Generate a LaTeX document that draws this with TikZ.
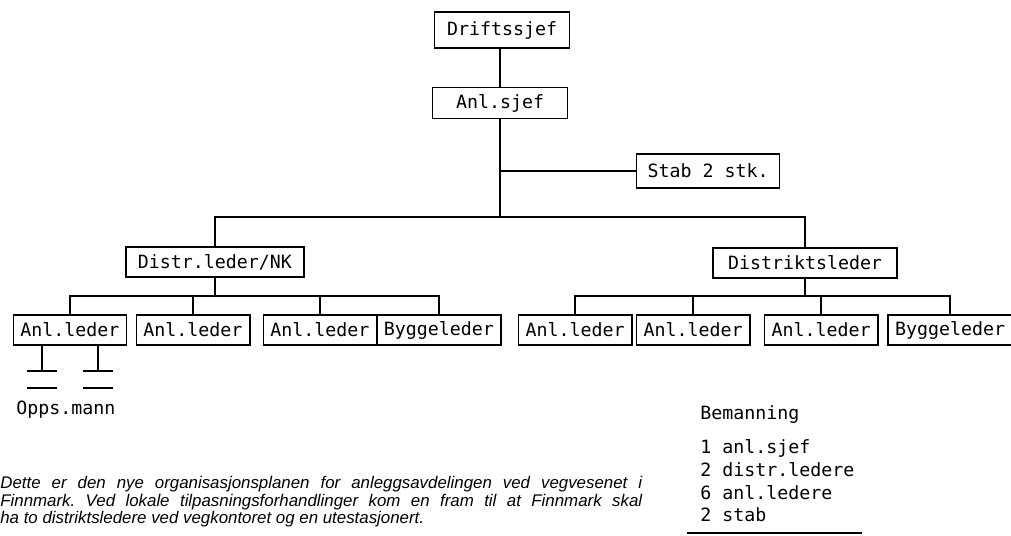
\documentclass[tikz,border=0pt]{standalone}
\usepackage{fontspec}
\newfontfamily\capfont{Liberation Sans}
\newfontfamily\typefont{DejaVu Sans Mono}
\usetikzlibrary{positioning}
\tikzset{
  box/.style={draw, line width=1.1pt, font=\fontsize{10.4}{12}\selectfont\typefont,
    inner xsep=4pt, inner ysep=0pt, minimum height=0.6cm},
  link/.style={line width=1.1pt},
  txt/.style={font=\fontsize{10.4}{12}\selectfont\typefont, inner sep=0pt, anchor=west},
}
\begin{document}
\begin{tikzpicture}[x=0.02cm, y=-0.02cm]
    \useasboundingbox (0,0) rectangle (1011,536);
    % top of the plan
    \node[box, minimum width=2.7cm, minimum height=0.72cm] (drift) at (502,30) {Driftssjef};
    \node[box, minimum width=2.7cm, minimum height=0.62cm] (anlsjef) at (500,103) {Anl.sjef};
    \node[box, minimum width=2.86cm, minimum height=0.68cm] (stab) at (708,171) {Stab 2 stk.};
    \node[box, minimum width=3.55cm] (distnk) at (215,262) {Distr.leder/NK};
    \node[box, minimum width=3.68cm] (distrikt) at (805,263) {Distriktsleder};
    % lower row
    \node[box] (al1) at (70,330) {Anl.leder};
    \node[box] (al2) at (193,330) {Anl.leder};
    \node[box] (al3) at (320,330) {Anl.leder};
    \node[box] (bl) at (439,330) {Byggeleder};
    \node[box] (ar1) at (575,330) {Anl.leder};
    \node[box] (ar2) at (693,330) {Anl.leder};
    \node[box] (ar3) at (821,330) {Anl.leder};
    \node[box] (br) at (950,330) {Byggeleder};
    \coordinate (bar) at (500,217);
    \coordinate (lbar) at (215,296);
    \coordinate (rbar) at (805,296);
    \draw[link] (drift.south -| anlsjef) -- (anlsjef);
    \draw[link] (anlsjef) -- (bar);
    \draw[link] (anlsjef.south |- stab.west) -- (stab.west);
    \draw[link] (distnk.north) |- (bar) -| (distrikt.north);
    \draw[link] (distnk.south) -- (lbar);
    \draw[link] (al1.north) |- (lbar) -| (bl.north);
    \draw[link] (distrikt.south) -- (rbar);
    \draw[link] (ar1.north) |- (rbar) -| (br.north);
    \foreach \n in {al2,al3,ar2,ar3}
        \draw[link] (\n.north) -- (\n.north |- lbar);
    % opps.mann
    \foreach \dx in {-28,28}{
        \draw[link] ([xshift=\dx*0.02cm]al1.south) -- ++(0,25) ++(-15,0) -- ++(30,0);
        \draw[link] ([xshift=\dx*0.02cm]al1.south) ++(-15,42) -- ++(30,0);
    }
    \node[txt, anchor=center] (opps) at (66,410) {Opps.mann};
    % bemanning
    \node[txt] (bem) at (700,415) {Bemanning};
    \node[txt, anchor=north west, align=left, font=\fontsize{10.4}{13}\selectfont\typefont]
        (list) at (700,439) {1 anl.sjef\\2 distr.ledere\\6 anl.ledere\\2 stab};
    \coordinate (rl) at (687,533);
    \coordinate (rr) at (862,533);
    \draw[line width=0.8pt] (rl) -- (rr);
    % caption
    \node[font=\capfont\itshape\fontsize{9.6}{10}\selectfont\frenchspacing, text width=12.84cm,
        align=justify, inner sep=0pt, anchor=north west] (cap) at (0,476)
        {Dette er den nye organisasjonsplanen for anleggsavdelingen ved vegvesenet i\linebreak
         Finnmark. Ved lokale tilpasningsforhandlinger kom en fram til at Finnmark skal\linebreak
         ha to distriktsledere ved vegkontoret og en utestasjonert.};
\end{tikzpicture}
\end{document}
